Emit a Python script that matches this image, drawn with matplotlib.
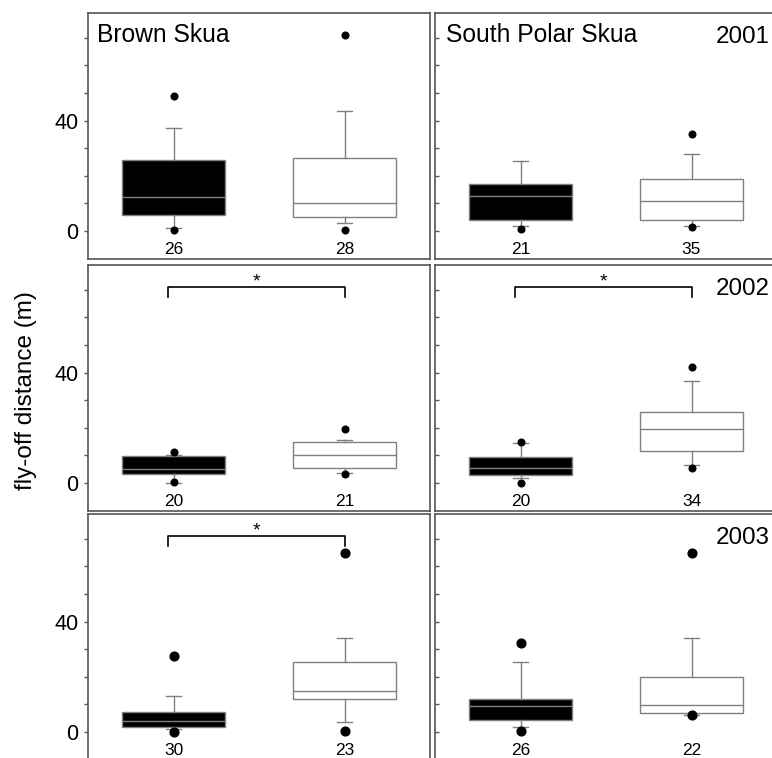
import matplotlib
matplotlib.use("Agg")
import matplotlib.pyplot as plt

plt.rcParams["font.family"] = ["Liberation Sans", "DejaVu Sans"]

species = ["Brown Skua", "South Polar Skua"]
years = ["2001", "2002", "2003"]

# panel order: Brown 2001, SP 2001, Brown 2002, SP 2002, Brown 2003, SP 2003
# each entry: [black group, white group]
n_birds = [[26, 28], [21, 35], [20, 21], [20, 34], [30, 23], [26, 22]]
medians = [[12.4, 10.0], [12.8, 10.8], [5.0, 10.0], [5.4, 19.7], [4.0, 15.0], [9.4, 9.9]]
q1 = [[5.7, 5.0], [3.9, 3.9], [3.1, 5.5], [2.8, 11.5], [1.8, 11.8], [4.4, 6.8]]
q3 = [[25.7, 26.5], [17.0, 18.7], [9.7, 15.0], [9.4, 25.8], [7.4, 25.2], [11.8, 20.1]]
whis_lo = [[1.0, 2.8], [1.8, 1.8], [0.1, 3.5], [1.7, 6.6], [1.2, 3.5], [1.7, 6.2]]
whis_hi = [[37.2, 43.6], [25.4, 27.8], [10.1, 15.7], [14.4, 37.1], [12.9, 34.1], [25.5, 33.9]]
outliers = [
    [[0.4, 49.1], [0.4, 70.9]],
    [[0.8], [1.6, 35.2]],
    [[0.2, 11.2], [3.1, 19.7]],
    [[-0.1, 14.8], [5.4, 42.2]],
    [[0.0, 27.4], [0.5, 65.0]],
    [[0.4, 32.1], [6.0, 64.7]],
]
significant = [False, False, True, True, True, False]

W, H = 772, 758
fig = plt.figure(figsize=(W / 100, H / 100), dpi=100)

col_left = [88, 435]
row_top = [13, 265, 514]
pw, ph = 342, 246
dot_size = [4.8, 4.8, 6.3]
frame_col = "#555555"
box_col = "#808080"

for i in range(6):
    r, c = divmod(i, 2)
    ax = fig.add_axes([col_left[c] / W, 1 - (row_top[r] + ph) / H, pw / W, ph / H])

    stats = []
    for g in range(2):
        stats.append(dict(med=medians[i][g], q1=q1[i][g], q3=q3[i][g],
                          whislo=whis_lo[i][g], whishi=whis_hi[i][g],
                          fliers=outliers[i][g]))
    bp = ax.bxp(stats, positions=[1, 2], widths=0.6, patch_artist=True,
                capwidths=0.085, manage_ticks=False,
                boxprops=dict(edgecolor=box_col, linewidth=1.0),
                whiskerprops=dict(color=box_col, linewidth=1.0),
                capprops=dict(color=box_col, linewidth=1.0),
                medianprops=dict(color=box_col, linewidth=1.0),
                flierprops=dict(marker="o", markerfacecolor="black",
                                markeredgecolor="black", markersize=dot_size[r]))
    bp["boxes"][0].set_facecolor("black")
    bp["boxes"][1].set_facecolor("white")

    # sample sizes under each box
    for g in range(2):
        ax.text(g + 1, 0.02, str(n_birds[i][g]), transform=ax.get_xaxis_transform(),
                ha="center", va="baseline", fontsize=12.5)

    if significant[i]:
        ax.plot([0.97, 0.97, 2.0, 2.0], [67.5, 71, 71, 67.5], color="black", lw=1.2)
        ax.text(1.485, 72.9, "*", ha="center", va="center", fontsize=14)

    if r == 0:
        ax.text(0.027 if c == 0 else 0.033, 0.882, species[c], transform=ax.transAxes,
                fontsize=17.7, ha="left", va="baseline")
    if c == 1:
        ax.text(0.82, 0.877, years[r], transform=ax.transAxes,
                fontsize=17.4, ha="left", va="baseline")

    ax.set_xlim(0.5, 2.5)
    ax.set_ylim(-10.15, 79.0)
    ax.set_xticks([])
    ax.set_yticks([0, 40])
    ax.set_yticks([10, 20, 30, 50, 60, 70], minor=True)
    if c == 0:
        ax.set_yticklabels(["0", "40"], fontsize=15.5)
        ax.tick_params(axis="y", which="both", direction="out", length=3,
                       width=1, color=frame_col, pad=4)
    else:
        ax.set_yticklabels([])
        ax.tick_params(axis="y", which="both", direction="in", length=3,
                       width=1, color=frame_col)
    for sp in ax.spines.values():
        sp.set_color(frame_col)
        sp.set_linewidth(1.2)

fig.text(26 / W, 1 - 391 / H, "fly-off distance (m)", rotation=90,
         ha="center", va="center", fontsize=17.5)

fig.savefig("out.png", dpi=100)
